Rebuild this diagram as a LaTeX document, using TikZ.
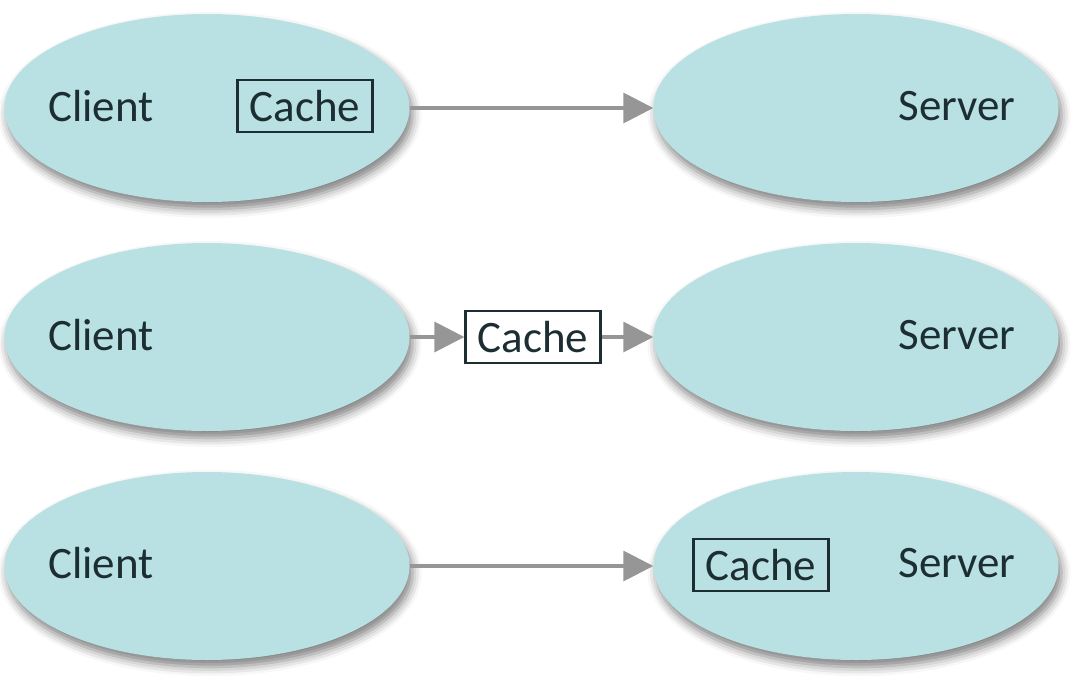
\documentclass[tikz,border=0pt]{standalone}
\usepackage{fontspec}
\setmainfont{Carlito}
\usetikzlibrary{shapes.geometric,arrows.meta,shadows.blur}
\definecolor{cellfill}{RGB}{185,225,228}
\definecolor{inktext}{RGB}{28,46,50}
\definecolor{linkgray}{RGB}{150,150,150}
\begin{document}
\begin{tikzpicture}[x=1pt, y=-1pt,
    host/.style={ellipse, fill=cellfill, minimum width=405pt, minimum height=188pt, inner sep=0pt,
        blur shadow={shadow xshift=3pt, shadow yshift=-7pt, shadow blur radius=9pt, shadow opacity=50}},
    word/.style={text=inktext, font=\fontsize{45}{54}\selectfont},
    cachebox/.style={word, draw=inktext, line width=2.3pt, minimum width=135pt, minimum height=52pt, inner sep=0pt},
    link/.style={draw=linkgray, line width=3.6pt, -{Triangle[length=30pt, width=30pt]}}]
    \useasboundingbox (0,0) rectangle (1092,694);

    % Row 1: cache inside the client
    \node[host] (client1) at (207,108) {};
    \node[host] (server1) at (856,108) {};
    \node[word] (clientlabel1) at (101,106) {Client};
    \node[word] (serverlabel1) at (957,106) {Server};
    \node[cachebox] (cache1) at (305,106) {Cache};
    \draw[link] (client1.east) -- (server1.west);

    % Row 2: cache between client and server
    \node[host] (client2) at (207,337) {};
    \node[host] (server2) at (856,337) {};
    \node[word] (clientlabel2) at (101,335) {Client};
    \node[word] (serverlabel2) at (957,335) {Server};
    \node[cachebox] (cache2) at (533,337) {Cache};
    \draw[link] (client2.east) -- (cache2.west);
    \draw[link] (cache2.east) -- (server2.west);

    % Row 3: cache inside the server
    \node[host] (client3) at (207,566) {};
    \node[host] (server3) at (856,566) {};
    \node[word] (clientlabel3) at (101,563) {Client};
    \node[word] (serverlabel3) at (957,563) {Server};
    \node[cachebox] (cache3) at (761,565) {Cache};
    \draw[link] (client3.east) -- (server3.west);
\end{tikzpicture}
\end{document}
